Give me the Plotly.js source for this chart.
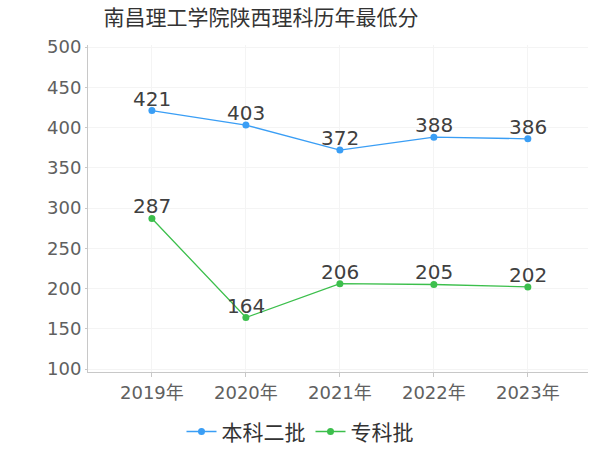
<!DOCTYPE html>
<html>
<head>
<meta charset="utf-8">
<script src="https://cdn.plot.ly/plotly-3.0.1.min.js"></script>
<style>
  body { margin: 0; background: #fff; }
  #plot { width: 600px; height: 450px; }
</style>
</head>
<body>
<div id="plot"></div>
<script>
// chart data
const years = ['2019年', '2020年', '2021年', '2022年', '2023年'];
const benkeScores = [421, 403, 372, 388, 386];
const zhuankeScores = [287, 164, 206, 205, 202];
const seriesNames = ['本科二批', '专科批'];
const yTicks = [100, 150, 200, 250, 300, 350, 400, 450, 500];

const font = '"DejaVu Sans", "Noto Sans CJK SC", sans-serif';
const cjkFont = '"Noto Sans CJK SC", "DejaVu Sans", sans-serif';

function makeTrace(values, name, color) {
  return {
    x: years,
    y: values,
    name: name,
    type: 'scatter',
    mode: 'lines+markers',
    line: { color: color, width: 1.3 },
    marker: { color: color, size: 7 },
    cliponaxis: false
  };
}

// value labels just above each point
function makeLabels(values) {
  return values.map((v, i) => ({
    x: years[i],
    y: v,
    text: String(v),
    showarrow: false,
    xanchor: 'center',
    yanchor: 'bottom',
    yshift: -2,
    font: { family: font, size: 20, color: '#404040' }
  }));
}

const traces = [
  makeTrace(benkeScores, seriesNames[0], '#3a9ef5'),
  makeTrace(zhuankeScores, seriesNames[1], '#3cbf4c')
];

const layout = {
  width: 600,
  height: 450,
  margin: { l: 88, r: 12, t: 45, b: 78, autoexpand: false },
  paper_bgcolor: '#fff',
  plot_bgcolor: '#fff',
  font: { family: font, color: '#666' },
  title: {
    text: '南昌理工学院陕西理科历年最低分',
    font: { family: cjkFont, size: 21, color: '#333' },
    x: 0.435, xanchor: 'center', y: 0.96, yanchor: 'middle'
  },
  xaxis: {
    type: 'category',
    range: [-0.68, 4.64],
    showgrid: true,
    gridcolor: '#f4f4f4',
    showline: true,
    linecolor: '#c8c8c8',
    ticks: 'outside',
    ticklen: 4,
    tickcolor: '#c8c8c8',
    tickfont: { family: font, size: 18, color: '#606060' },
    zeroline: false,
    fixedrange: true
  },
  yaxis: {
    range: [96.3, 502.5],
    tickvals: yTicks,
    showgrid: true,
    gridcolor: '#f4f4f4',
    showline: true,
    linecolor: '#c8c8c8',
    ticks: 'outside',
    ticklen: 2,
    tickcolor: '#c8c8c8',
    tickfont: { family: font, size: 18, color: '#606060' },
    zeroline: false,
    fixedrange: true
  },
  annotations: makeLabels(benkeScores).concat(makeLabels(zhuankeScores)),
  showlegend: true,
  legend: {
    orientation: 'h',
    xref: 'container',
    x: 0.5, xanchor: 'center',
    y: -0.183, yanchor: 'middle',
    font: { family: cjkFont, size: 21, color: '#333' },
    itemwidth: 30,
    tracegroupgap: 0
  }
};

Plotly.newPlot('plot', traces, layout, { displayModeBar: false, staticPlot: true });
</script>
</body>
</html>
